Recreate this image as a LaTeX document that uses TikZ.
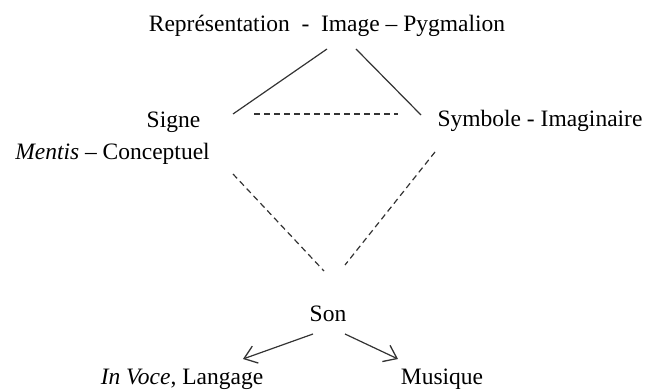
\documentclass[tikz,border=0pt]{standalone}
\usepackage{fontspec}
\setmainfont{Liberation Serif}
\usetikzlibrary{arrows.meta}

\begin{document}
\begin{tikzpicture}[x=1pt,y=-1pt,
    every node/.style={inner sep=0pt,anchor=base,font=\fontsize{23.5}{28}\selectfont},
    link/.style={line width=1.2pt,color=black!80},
    dashlink/.style={link,dash pattern=on 6pt off 4pt},
    arrowlink/.style={link,-{Straight Barb[length=12pt,width=18pt,line width=1.3pt]}}]

\useasboundingbox (0,0) rectangle (649,390);

%========================
% Texts
%========================

\node (repr) at (327,32) {Représentation\ \ -\ \ Image – Pygmalion};
\node (signe) at (173.5,128) {Signe};
\node (mentis) at (112.5,160) {\textit{Mentis} – Conceptuel};
\node (symbole) at (540,127) {Symbole - Imaginaire};
\node (son) at (328,322) {Son};
\node (langage) at (182,385) {\textit{In Voce}, Langage};
\node (musique) at (442,385) {Musique};

%========================
% Line ends
%========================

\coordinate (repr-l) at (327,49);
\coordinate (repr-r) at (356,49);
\coordinate (signe-t) at (233,114);
\coordinate (signe-r) at (254,114);
\coordinate (symbole-l) at (398,114);
\coordinate (symbole-t) at (421,115);
\coordinate (mentis-b) at (233,174);
\coordinate (symbole-b) at (435,152);
\coordinate (son-tl) at (324,271);
\coordinate (son-tr) at (345,265);
\coordinate (son-bl) at (313,334);
\coordinate (son-br) at (345,334);
\coordinate (langage-t) at (243,359);
\coordinate (musique-t) at (398,359);

%========================
% Connectors
%========================

% triangle
\draw[link] (repr-l)--(signe-t);
\draw[link] (repr-r)--(symbole-t);
\draw[dashlink] (signe-r)--(symbole-l);

% down to Son
\draw[dashlink] (mentis-b)--(son-tl);
\draw[dashlink] (symbole-b)--(son-tr);

% branches
\draw[arrowlink] (son-bl)--(langage-t);
\draw[arrowlink] (son-br)--(musique-t);

\end{tikzpicture}
\end{document}
